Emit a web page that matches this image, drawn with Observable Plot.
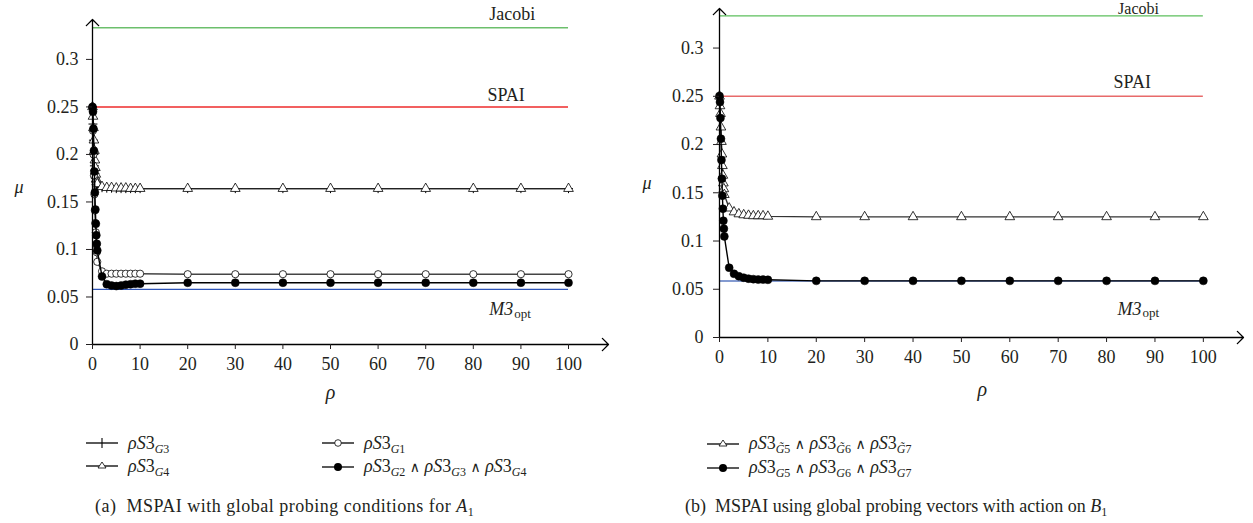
<!DOCTYPE html>
<html>
<head>
<meta charset="utf-8">
<script src="https://cdn.jsdelivr.net/npm/d3@7"></script>
<script src="https://cdn.jsdelivr.net/npm/@observablehq/plot@0.6"></script>
<style>
  body { margin: 0; background: #fff; font-family: 'Liberation Serif', 'DejaVu Serif', serif; color: #231f20; }
  #wrap { position: relative; width: 1253px; height: 523px; overflow: hidden; }
  .panel { position: absolute; top: 0; }
  .panel svg { overflow: visible; font-family: 'Liberation Serif', 'DejaVu Serif', serif !important; }
  .panel svg text { font-family: 'Liberation Serif', 'DejaVu Serif', serif !important; }
  .leg { position: absolute; font-size: 18px; line-height: 20px; white-space: nowrap; display: flex; align-items: center; }
  .leg svg { margin-right: 10px; }
  .and { font-family: 'DejaVu Serif', serif; font-size: 14px; font-weight: 300; }
  .cap { position: absolute; font-size: 18px; white-space: nowrap; }
  sub { font-size: 12px; vertical-align: -4px; line-height: 0; }
</style>
</head>
<body>
<div id="wrap">
  <div class="panel" id="left" style="left:0px"></div>
  <div class="panel" id="right" style="left:626px"></div>
</div>
<script>
// ---------------- data ----------------
const rho = [0, 0.1, 0.2, 0.3, 0.4, 0.5, 0.6, 0.7, 0.8, 0.9, 1, 2, 3, 4, 5, 6, 7, 8, 9, 10, 20, 30, 40, 50, 60, 70, 80, 90, 100];
const xTicks = [0, 10, 20, 30, 40, 50, 60, 70, 80, 90, 100];
const yTicks = [0, 0.05, 0.1, 0.15, 0.2, 0.25, 0.3];

// panel (a)
const aG3 = [0.25, 0.232, 0.215, 0.2, 0.188, 0.18, 0.175, 0.171, 0.168, 0.167, 0.166, 0.165, 0.1645, 0.1645, 0.164, 0.164, 0.164, 0.164, 0.164, 0.164, 0.164, 0.164, 0.164, 0.164, 0.164, 0.164, 0.164, 0.164, 0.164];
const aG4 = [0.25, 0.24, 0.228, 0.215, 0.204, 0.194, 0.186, 0.179, 0.174, 0.171, 0.169, 0.166, 0.165, 0.165, 0.1645, 0.1645, 0.1645, 0.164, 0.164, 0.164, 0.164, 0.164, 0.164, 0.164, 0.164, 0.164, 0.164, 0.164, 0.164];
const aG1 = [0.25, 0.225, 0.2, 0.178, 0.158, 0.141, 0.128, 0.118, 0.105, 0.097, 0.087, 0.077, 0.0745, 0.0745, 0.0745, 0.0745, 0.0745, 0.0745, 0.0745, 0.0745, 0.074, 0.074, 0.074, 0.074, 0.074, 0.074, 0.074, 0.074, 0.074];
const aG234 = [0.25, 0.245, 0.227, 0.204, 0.182, 0.16, 0.142, 0.127, 0.115, 0.106, 0.099, 0.0716, 0.0635, 0.062, 0.0615, 0.062, 0.063, 0.0635, 0.064, 0.064, 0.065, 0.065, 0.065, 0.065, 0.065, 0.065, 0.065, 0.065, 0.065];
const aJacobi = 1 / 3, aSpai = 0.25, aM3opt = 0.058;

// panel (b)
const bTilde = [0.25, 0.24, 0.232, 0.218, 0.203, 0.19, 0.178, 0.168, 0.16, 0.154, 0.148, 0.134, 0.13, 0.128, 0.127, 0.1265, 0.126, 0.126, 0.126, 0.1255, 0.125, 0.125, 0.125, 0.125, 0.125, 0.125, 0.125, 0.125, 0.125];
const bG567 = [0.2503, 0.244, 0.2275, 0.206, 0.184, 0.1646, 0.147, 0.1335, 0.121, 0.1128, 0.1048, 0.0723, 0.066, 0.0635, 0.062, 0.061, 0.0605, 0.06, 0.06, 0.0598, 0.0587, 0.0587, 0.0587, 0.0587, 0.0587, 0.0587, 0.0587, 0.0587, 0.0587];
const bJacobi = 1 / 3, bSpai = 0.25, bM3opt = 0.0585;

// ---------------- helpers ----------------
const FONT = "'Liberation Serif', 'DejaVu Serif', serif";
const TXT = "#231f20";
const rows = arr => rho.map((r, i) => ({rho: r, mu: arr[i]}));

function panel(o) {
  const marks = [
    Plot.ruleY([o.jacobi], {x1: 0, x2: 100, stroke: o.green, strokeWidth: 1.4}),
    Plot.ruleY([o.spai], {x1: 0, x2: 100, stroke: o.red, strokeWidth: 1.4}),
    Plot.ruleY([o.m3], {x1: 0, x2: 100, stroke: o.blue, strokeWidth: 1.4}),
    Plot.text(["Jacobi"], {x: o.labX, y: o.jacobi, text: d => d, dy: o.dyJ, fontSize: o.jSize, fill: TXT}),
    Plot.text(["SPAI"], {x: o.labX - 1.3, y: o.spai, text: d => d, dy: o.dyS, fontSize: 18, fill: TXT}),
    Plot.text(["M3"], {x: o.m3X, y: o.m3, text: d => d, dy: o.dyM, fontSize: 18, fontStyle: "italic", textAnchor: "end", fill: TXT}),
    Plot.text(["opt"], {x: o.m3X, y: o.m3, text: d => d, dy: o.dyM + 4, dx: 1, fontSize: 13, textAnchor: "start", fill: TXT})
  ];
  for (const s of o.series) {
    const d = rows(s.values);
    marks.push(Plot.line(d, {x: "rho", y: "mu", stroke: s.line, strokeWidth: 1.4}));
    marks.push(Plot.dot(d, {x: "rho", y: "mu", symbol: s.symbol, r: s.r, fill: s.fill, stroke: "#000", strokeWidth: s.sw}));
  }
  marks.push(
    Plot.arrow([0], {x1: 0, y1: 0, x2: o.xMax, y2: 0, stroke: "#000", strokeWidth: 1.3, headAngle: 90, headLength: 10}),
    Plot.arrow([0], {x1: 0, y1: 0, x2: 0, y2: o.yMax, stroke: "#000", strokeWidth: 1.3, headAngle: 90, headLength: 10}),
    Plot.axisX(xTicks, {tickSize: 5, tickPadding: 8, tickFormat: d => String(d), label: null, fontSize: 18, fill: TXT}),
    Plot.axisY(yTicks, {tickSize: 6, tickPadding: o.yPad, tickFormat: d => String(d), label: null, fontSize: 18, fill: TXT}),
    Plot.text(["μ"], {frameAnchor: "left", dx: o.muDx, dy: o.muDy, text: d => d, fontSize: 18, fontStyle: "italic", fill: TXT}),
    Plot.text(["ρ"], {x: o.rhoX, frameAnchor: "bottom", dy: o.rhoDy, text: d => d, fontSize: 20, fontStyle: "italic", fill: TXT})
  );
  return Plot.plot({
    width: o.width, height: 410,
    marginLeft: o.ml, marginRight: o.mr, marginTop: o.mt, marginBottom: o.mb,
    x: {domain: [0, o.xMax]},
    y: {domain: [0, o.yMax]},
    style: {fontFamily: FONT, fontSize: "18px", color: TXT, background: "transparent", overflow: "visible"},
    marks
  });
}

document.getElementById("left").append(panel({
  width: 626, ml: 92, mr: 18, mt: 19, mb: 66, xMax: 108.4, yMax: 0.342, yPad: 8,
  jacobi: aJacobi, spai: aSpai, m3: aM3opt,
  green: "#6cbf6c", red: "#ee2b2b", blue: "#2f55b8",
  labX: 88.2, dyJ: -14, jSize: 18, dyS: -12, m3X: 88.4, dyM: 20,
  muDx: -78, muDy: 5, rhoX: 50, rhoDy: 54,
  series: [
    {values: aG3, symbol: "plus", r: 3, fill: "none", line: "#222", sw: 1},
    {values: aG4, symbol: "triangle", r: 3.6, fill: "#fff", line: "#222", sw: 0.8},
    {values: aG1, symbol: "circle", r: 3.6, fill: "#fff", line: "#444", sw: 0.8},
    {values: aG234, symbol: "circle", r: 4, fill: "#000", line: "#000", sw: 0.5}
  ]
}));

document.getElementById("right").append(panel({
  width: 627, ml: 93, mr: 10, mt: 8, mb: 73, xMax: 108.3, yMax: 0.341, yPad: 10,
  jacobi: bJacobi, spai: bSpai, m3: bM3opt,
  green: "#5cbf5c", red: "#e86a6a", blue: "#5a78c0",
  labX: 86.6, dyJ: -7, jSize: 16, dyS: -14, m3X: 87.2, dyM: 28,
  muDx: -77, muDy: 10, rhoX: 54.3, rhoDy: 58,
  series: [
    {values: bTilde, symbol: "triangle", r: 3.6, fill: "#fff", line: "#333", sw: 0.8},
    {values: bG567, symbol: "circle", r: 4, fill: "#000", line: "#000", sw: 0.5}
  ]
}));

// ---------------- legends & captions ----------------
function symbolSvg(kind) {
  const svg = d3.create("svg").attr("width", 32).attr("height", 14);
  svg.append("line").attr("x1", 0).attr("x2", 32).attr("y1", 7).attr("y2", 7).attr("stroke", "#000").attr("stroke-width", 1.3);
  if (kind === "plus") {
    svg.append("line").attr("x1", 16).attr("x2", 16).attr("y1", 2).attr("y2", 12).attr("stroke", "#000").attr("stroke-width", 1.1);
  } else if (kind === "open") {
    svg.append("circle").attr("cx", 16).attr("cy", 7).attr("r", 3.3).attr("fill", "#fff").attr("stroke", "#000").attr("stroke-width", 0.8);
  } else if (kind === "filled") {
    svg.append("circle").attr("cx", 16).attr("cy", 7).attr("r", 4).attr("fill", "#000");
  } else if (kind === "tri") {
    svg.append("path").attr("d", "M16,3 L20,9 L12,9 Z").attr("fill", "#fff").attr("stroke", "#000").attr("stroke-width", 0.8);
  }
  return svg.node();
}
const wrap = document.getElementById("wrap");
function legend(left, top, kind, html) {
  const div = document.createElement("div");
  div.className = "leg";
  div.style.left = left + "px";
  div.style.top = top + "px";
  div.append(symbolSvg(kind));
  const span = document.createElement("span");
  span.innerHTML = html;
  div.append(span);
  wrap.append(div);
}
function caption(left, top, html, spacing) {
  const div = document.createElement("div");
  div.className = "cap";
  div.style.left = left + "px";
  div.style.top = top + "px";
  div.style.letterSpacing = spacing + "px";
  div.innerHTML = html;
  wrap.append(div);
}
const rs = sub => `<i>ρS</i>3<sub><i>${sub[0]}</i>${sub.slice(1)}</sub>`;
const rsT = n => `<i>ρS</i>3<sub><i>G̃</i>${n}</sub>`;
const AND = ` <span class="and">∧</span> `;
legend(86, 433, "plus", rs("G3"));
legend(86, 456, "tri", rs("G4"));
legend(322, 433, "open", rs("G1"));
legend(322, 456, "filled", rs("G2") + AND + rs("G3") + AND + rs("G4"));
legend(707, 433, "tri", rsT(5) + AND + rsT(6) + AND + rsT(7));
legend(707, 457, "filled", rs("G5") + AND + rs("G6") + AND + rs("G7"));
caption(95, 496, "(a)&nbsp;&nbsp;MSPAI with global probing conditions for <i>A</i><sub>1</sub>", 0.5);
caption(685, 496, "(b)&nbsp;&nbsp;MSPAI using global probing vectors with action on <i>B</i><sub>1</sub>", 0);
</script>
</body>
</html>
